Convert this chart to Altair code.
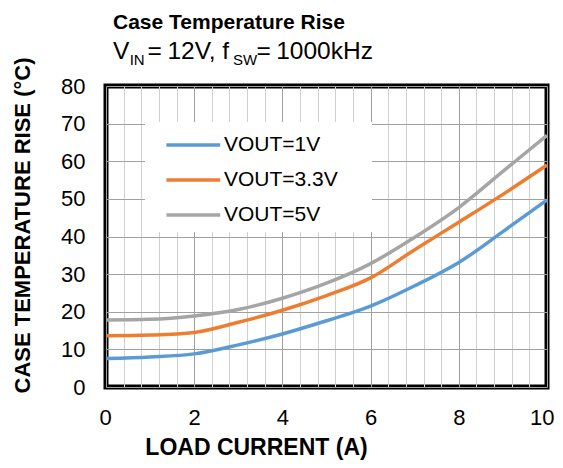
import altair as alt
import pandas as pd

FONT = "Liberation Sans"

# ---- data ----
current = [0, 1, 2, 3, 4, 5, 6, 7, 8, 9, 10]
vout_1v = [7.6, 8.0, 8.8, 11.2, 14.1, 17.6, 21.5, 26.9, 33.1, 41.3, 49.7]
vout_3v3 = [13.6, 13.8, 14.5, 17.2, 20.4, 24.3, 29.0, 36.5, 43.8, 51.2, 59.0]
vout_5v = [17.8, 18.0, 18.9, 20.6, 23.6, 27.6, 32.8, 39.8, 47.7, 57.3, 66.9]
series = ["VOUT=1V", "VOUT=3.3V", "VOUT=5V"]
colors = ["#5B9BD5", "#ED7D31", "#A5A5A5"]
x_major = [0, 2, 4, 6, 8, 10]
x_minor = [0.4, 0.8, 1.2, 1.6, 2.4, 2.8, 3.2, 3.6, 4.4, 4.8, 5.2, 5.6,
           6.4, 6.8, 7.2, 7.6, 8.4, 8.8, 9.2, 9.6]
y_ticks = [0, 10, 20, 30, 40, 50, 60, 70, 80]

rows = []
for name, vals in zip(series, [vout_1v, vout_3v3, vout_5v]):
    for c, v in zip(current, vals):
        rows.append({"current": c, "rise": v, "series": name})
df = pd.DataFrame(rows)

W, H = 441, 301
xscale = alt.Scale(domain=[0, 10], nice=False, zero=False)
yscale = alt.Scale(domain=[0, 80], nice=False)

lines = alt.Chart(df).mark_line(strokeWidth=3.5, interpolate="monotone").encode(
    x=alt.X("current:Q", scale=xscale,
            axis=alt.Axis(orient="bottom", values=x_major, grid=True, gridColor="#a0a0a0",
                          gridWidth=1, ticks=False, domain=False, labelFontSize=22,
                          labelFont=FONT, labelColor="black", labelPadding=20,
                          labelFlush=True, labelFlushOffset=7,
                          title="LOAD CURRENT (A)", titleFont=FONT, titleFontSize=23,
                          titleFontWeight="bold", titleColor="black", titleX=150,
                          titleY=60, titleAlign="center", titleBaseline="middle")),
    y=alt.Y("rise:Q", scale=yscale,
            axis=alt.Axis(values=y_ticks, grid=True, gridColor="#a0a0a0", gridWidth=1,
                          ticks=False, domain=False, labelFontSize=22, labelFont=FONT,
                          labelColor="black", labelPadding=21, labelFlush=False,
                          title="CASE TEMPERATURE RISE (°C)", titleFont=FONT,
                          titleFontSize=22, titleFontWeight="bold", titleColor="black",
                          titleX=-84, titleY=139, titleAlign="center",
                          titleBaseline="middle", titleAngle=270)),
    color=alt.Color("series:N", scale=alt.Scale(domain=series, range=colors),
                    legend=alt.Legend(orient="none", legendX=39, legendY=36, title=None,
                                      symbolType="M-0.1,0H3.3", symbolSize=1000,
                                      symbolStrokeWidth=3.5, labelFontSize=21,
                                      labelFont=FONT, labelColor="black",
                                      labelOffset=38, labelLimit=400,
                                      padding=5, rowPadding=7)),
)

minor = alt.Chart(pd.DataFrame({"current": [0.0]})).mark_point(opacity=0).encode(
    x=alt.X("current:Q", scale=xscale,
            axis=alt.Axis(orient="top", values=x_minor, grid=True, gridColor="#d0d0d0",
                          gridWidth=1, labels=False, ticks=False, domain=False, title=None)),
)

one = pd.DataFrame({"k": [0]})

# white legend background box
legend_box = alt.Chart(one).mark_rect(color="white").encode(
    x=alt.value(39), x2=alt.value(266), y=alt.value(36), y2=alt.value(146)
)


def txt(s, x, y, size, bold=False):
    return alt.Chart(one).mark_text(
        text=s, align="left", baseline="alphabetic", font=FONT, fontSize=size,
        fontWeight="bold" if bold else "normal", color="black"
    ).encode(x=alt.value(x), y=alt.value(y))


texts = [
    txt("Case Temperature Rise", 7, -57, 21, bold=True),
    txt("V", 7, -27, 24.5),
    txt("IN", 23.7, -21, 15),
    txt("=", 41.6, -27, 24.5),
    txt("12V, f", 61.4, -27, 24.5),
    txt("SW", 127, -21, 15),
    txt("=", 150.4, -27, 24.5),
    txt("1000kHz", 170.2, -27, 24.5),
]

chart = alt.layer(lines, minor, legend_box, *texts).resolve_axis(x="independent").properties(
    width=W, height=H,
    padding={"left": 98, "top": 78, "right": 8, "bottom": 74},
    autosize=alt.AutoSizeParams(type="none"),
).configure_view(stroke="black", strokeWidth=5)

chart.save("out.html", embed_options={"renderer": "svg", "actions": False})
